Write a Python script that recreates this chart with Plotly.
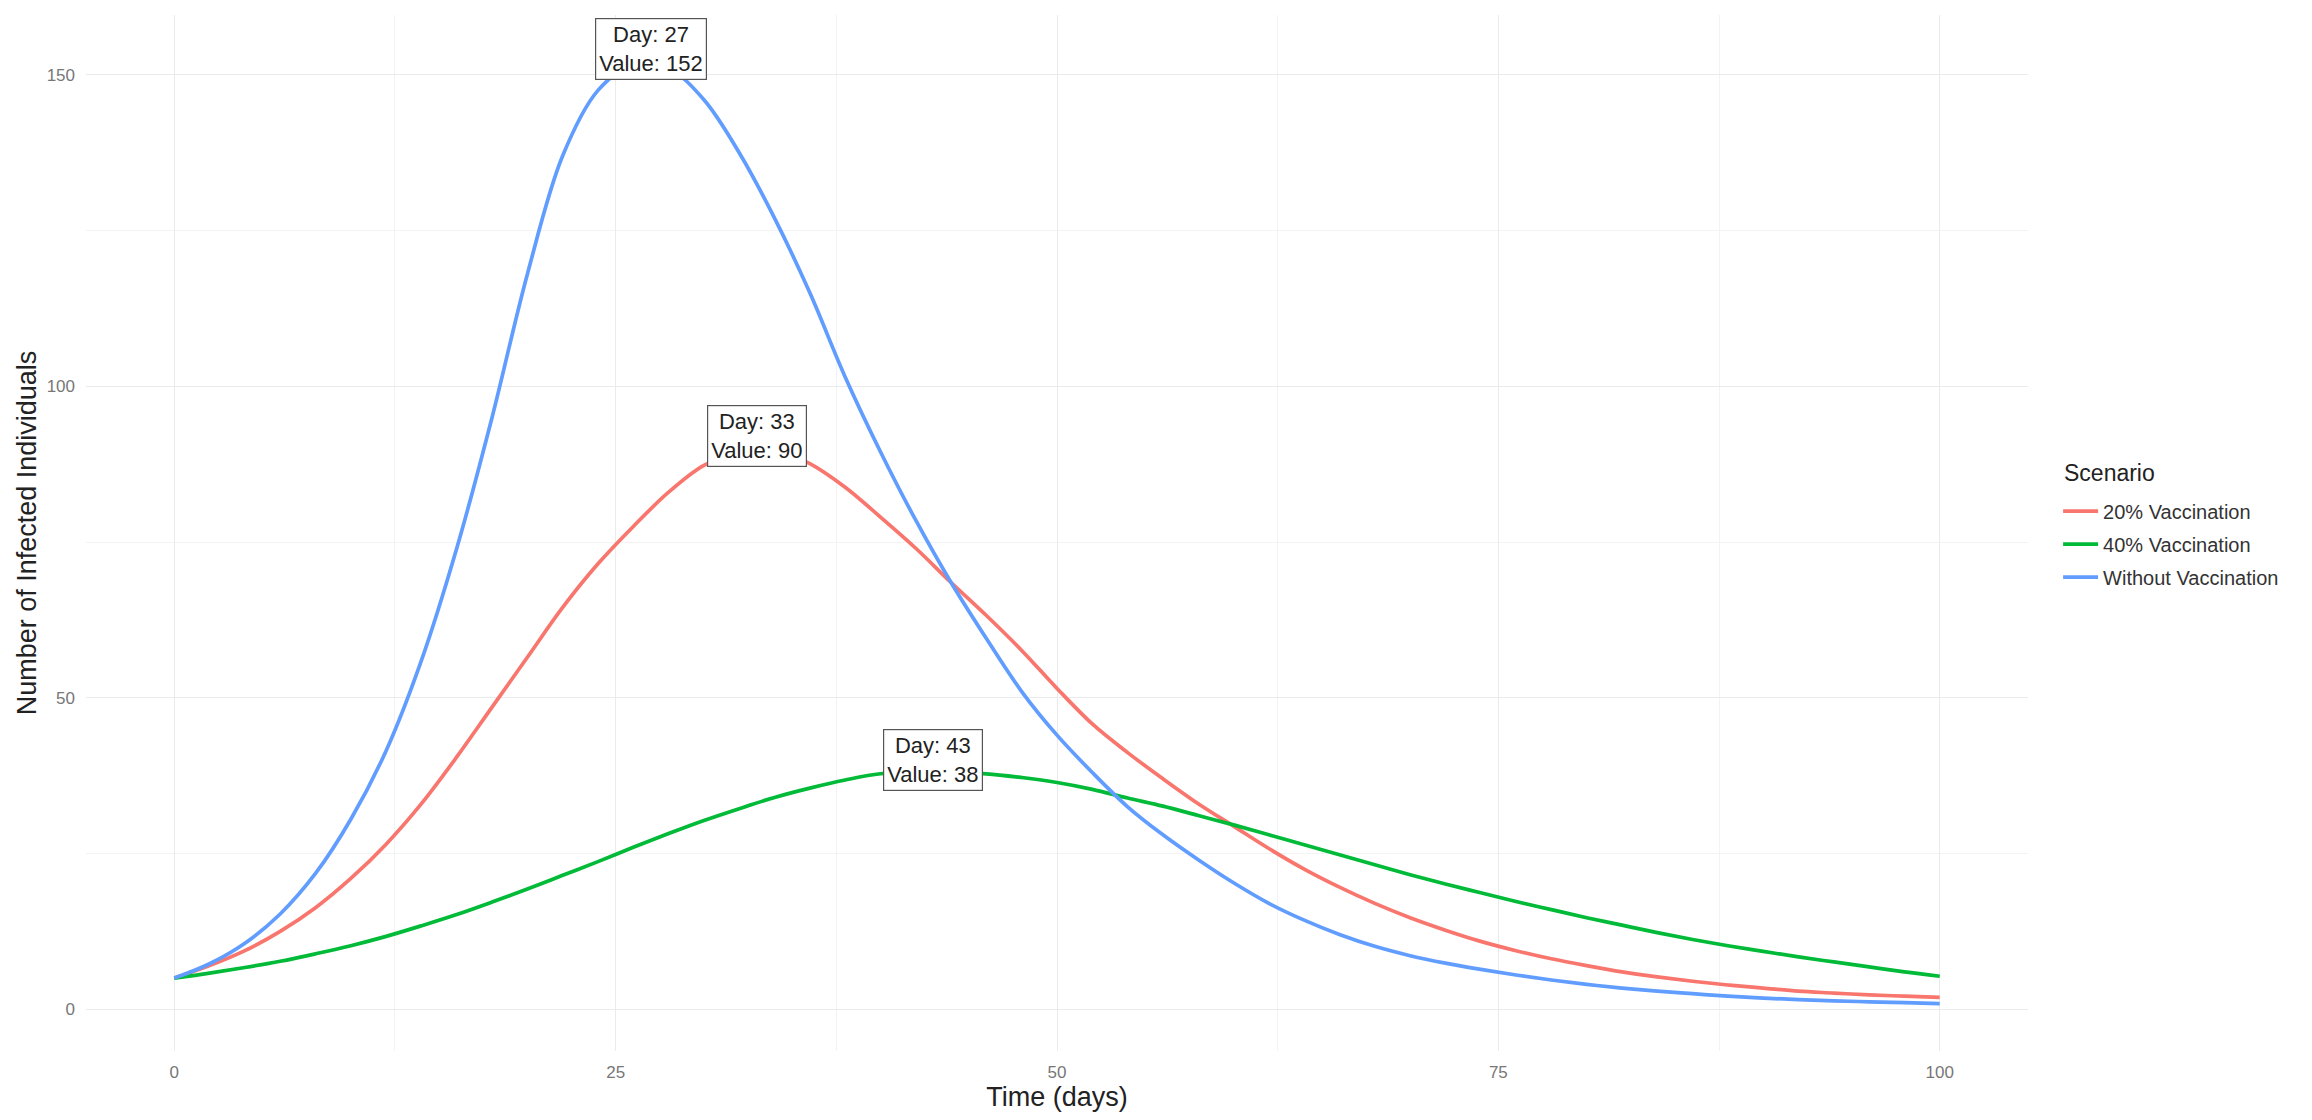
import plotly.graph_objects as go

# ---------------- data ----------------
days = list(range(0, 101, 2))

without_vacc = [5.0, 7.3, 10.6, 15.3, 21.8, 30.5, 41.5, 56.0, 74.0, 95.0,
                118.0, 137.0, 147.5, 151.6, 151.0, 146.0, 137.5, 127.0, 115.0, 101.5,
                89.5, 78.5, 68.5, 59.5, 51.0, 44.0, 38.0, 32.5, 28.0, 24.0,
                20.3, 17.0, 14.3, 12.0, 10.1, 8.6, 7.4, 6.4, 5.5, 4.7,
                4.0, 3.4, 2.9, 2.5, 2.1, 1.8, 1.55, 1.35, 1.2, 1.05, 0.9]

vacc_20 = [5.0, 7.0, 9.4, 12.5, 16.3, 21.0, 26.5, 33.0, 40.5, 48.5,
           56.5, 64.5, 71.5, 77.5, 83.0, 87.3, 89.5, 89.8, 87.6, 83.8,
           79.0, 74.0, 68.5, 63.2, 57.6, 51.5, 45.8, 41.2, 37.0, 33.0,
           29.4, 25.8, 22.5, 19.6, 17.0, 14.7, 12.7, 10.9, 9.4, 8.1,
           7.0, 6.0, 5.2, 4.5, 3.9, 3.4, 2.9, 2.6, 2.3, 2.1, 1.9]

vacc_40 = [5.0, 5.8, 6.7, 7.7, 8.9, 10.2, 11.7, 13.4, 15.2, 17.2,
           19.3, 21.5, 23.7, 26.0, 28.2, 30.3, 32.2, 34.0, 35.5, 36.8,
           37.8, 38.0, 38.0, 37.8, 37.2, 36.4, 35.3, 33.9, 32.6, 31.1,
           29.6, 28.0, 26.4, 24.8, 23.2, 21.6, 20.1, 18.7, 17.3, 16.0,
           14.7, 13.5, 12.3, 11.2, 10.2, 9.3, 8.4, 7.6, 6.8, 6.0, 5.3]

scenarios = ["20% Vaccination", "40% Vaccination", "Without Vaccination"]
series = [vacc_20, vacc_40, without_vacc]
colors = ["#F8766D", "#00BA38", "#619CFF"]

peak_days = [33, 43, 27]
peak_values = [90, 38, 152]

x_ticks = [0, 25, 50, 75, 100]
y_ticks = [0, 50, 100, 150]

FONT = "Liberation Sans, Arial, sans-serif"

# ---------------- figure ----------------
fig = go.Figure()
for name, vals, col in zip(scenarios, series, colors):
    fig.add_trace(go.Scatter(
        x=days, y=vals, mode="lines", name=name, legendgroup=name,
        line=dict(color=col, width=3.7, shape="spline", smoothing=1.0),
    ))

for d, v in zip(peak_days, peak_values):
    fig.add_annotation(
        x=d, y=v, xref="x", yref="y",
        text=f"Day: {d}<br>Value: {v}",
        showarrow=False, yshift=13,
        font=dict(family=FONT, size=22, color="#222222"),
        bgcolor="white", bordercolor="#555555", borderwidth=1.2, borderpad=3,
        align="center",
    )

# legend title drawn as text above the legend entries
fig.add_annotation(
    x=1.0175, y=0.558, xref="paper", yref="paper",
    xanchor="left", yanchor="middle", showarrow=False,
    text="Scenario", font=dict(family=FONT, size=23, color="#222222"),
)

fig.update_layout(
    width=2296, height=1104,
    margin=dict(l=78, r=276, t=7, b=61),
    paper_bgcolor="white", plot_bgcolor="white",
    font=dict(family=FONT, color="#222222"),
    showlegend=True,
    legend=dict(
        font=dict(size=20, color="#333333"),
        x=1.0155, xanchor="left", y=0.54, yanchor="top",
        tracegroupgap=4, itemwidth=35, bgcolor="rgba(0,0,0,0)",
    ),
    xaxis=dict(
        range=[-5, 105], tickvals=x_ticks, ticktext=[str(t) for t in x_ticks],
        showgrid=True, gridcolor="#EBEBEB", gridwidth=1.3,
        minor=dict(tickvals=[12.5, 37.5, 62.5, 87.5], showgrid=True,
                   gridcolor="#F3F3F3", gridwidth=0.8),
        zeroline=False, showline=False, ticks="",
        tickfont=dict(size=17, color="#777777"), ticklabelstandoff=9,
        title=dict(text="Time (days)", font=dict(size=27, color="#222222"), standoff=10),
        automargin=False,
    ),
    yaxis=dict(
        range=[-6.7, 159.6], tickvals=y_ticks, ticktext=[str(t) for t in y_ticks],
        showgrid=True, gridcolor="#EBEBEB", gridwidth=1.3,
        minor=dict(tickvals=[25, 75, 125], showgrid=True,
                   gridcolor="#F3F3F3", gridwidth=0.8),
        zeroline=False, showline=False, ticks="",
        tickfont=dict(size=17, color="#777777"), ticklabelstandoff=10,
        title=dict(text="Number of Infected Individuals", font=dict(size=27, color="#222222"),
                   standoff=2),
        automargin=False,
    ),
)

fig.write_html("out.html")
